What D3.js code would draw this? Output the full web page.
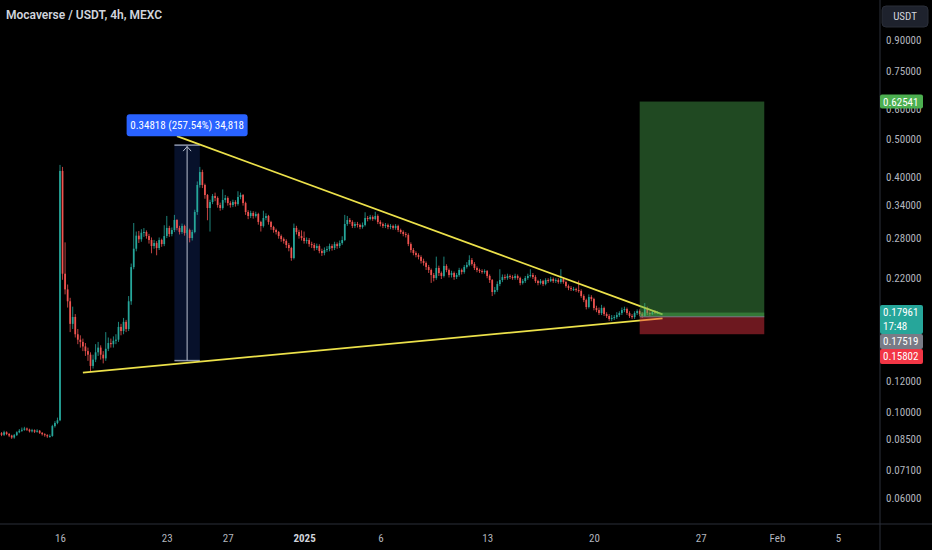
<!DOCTYPE html>
<html>
<head>
<meta charset="utf-8">
<script src="https://cdn.jsdelivr.net/npm/d3@7"></script>
<style>
  html, body { margin: 0; padding: 0; background: #000; }
  svg { display: block; }
  text { font-family: "Liberation Sans Narrow", "Roboto Condensed", Roboto, sans-serif; }
</style>
</head>
<body>
<script>
var w = 932;
var h = 550;
var paneW = 880;   // price scale starts here
var paneH = 524;   // time scale starts here

// 4h candles, first one opens 12 Dec 2024 00:00 UTC
var startTime = Date.UTC(2024, 11, 12);
var barMs = 4 * 3600 * 1000;
var firstOpen = 0.0875;

var closes = [
  .0880,.0872,.0885,.0876,.0868,.0858,.0870,.0885,.0893,.0898,
  .0905,.0899,.0890,.0896,.0888,.0893,.0882,.0875,.0870,.0864,
  .0866,.0918,.0935,.0950,.415,.226,.206,.192,.168,.175,
  .158,.153,.151,.147,.143,.140,.131,.136,.142,.146,
  .140,.137,.145,.150,.149,.152,.153,.165,.161,.170,
  .163,.192,.235,.262,.283,.277,.288,.2892,.2824,.2758,
  .2662,.2709,.2631,.2758,.2693,.2824,.2962,.2858,.2926,.3105,
  .2962,.2892,.2997,.2874,.2926,.2791,.2892,.3255,.3819,.4123,
  .3819,.3599,.3333,.3453,.3578,.3536,.3392,.3333,.3494,.3536,
  .3432,.3392,.3453,.3412,.3557,.3599,.3432,.3255,.3179,.3236,
  .3179,.3217,.3069,.2997,.3142,.3179,.3069,.2979,.2926,.2892,
  .2824,.2774,.2742,.2678,.2631,.2480,.2962,.2892,.2824,.2791,
  .2742,.2758,.2693,.2678,.2631,.2662,.2585,.2554,.2600,.2615,
  .2662,.2631,.2693,.2662,.2709,.2758,.3032,.3105,.3069,.2997,
  .3032,.3015,.2979,.3015,.3142,.3123,.3161,.3123,.3179,.3069,
  .3032,.2997,.3015,.2979,.2997,.2962,.2997,.2926,.2892,.2858,
  .2841,.2693,.2600,.2554,.2524,.2495,.2437,.2408,.2352,.2310,
  .2243,.2203,.2338,.2269,.2230,.2366,.2310,.2243,.2269,.2216,
  .2243,.2310,.2283,.2352,.2380,.2451,.2394,.2338,.2310,.2296,
  .2283,.2296,.2230,.2177,.2028,.2052,.2126,.2177,.2216,.2203,
  .2230,.2216,.2203,.2230,.2203,.2139,.2164,.2203,.2230,.2243,
  .2216,.2164,.2139,.2164,.2126,.2177,.2164,.2190,.2164,.2177,
  .2152,.2190,.2152,.2101,.2076,.2064,.2064,.2052,.2040,.1981,
  .1934,.1856,.1969,.1946,.1845,.1823,.1791,.1845,.1780,.1760,
  .1729,.1739,.1749,.1770,.1791,.1823,.1834,.1791,.1760,.1749,
  .1791,.1812,.1780,.1760,.1845,.1791,.1780,.1802,.1791,.17961
];

var highs = [
  .0892,.0886,.0893,.0890,.0881,.0872,.0876,.0890,.0902,.0910,
  .0914,.0910,.0904,.0903,.0900,.0901,.0897,.0886,.0880,.0875,
  .0874,.0925,.0945,.0965,.430,.425,.272,.212,.196,.186,
  .178,.163,.157,.154,.150,.146,.142,.140,.149,.151,
  .148,.143,.160,.155,.154,.156,.158,.170,.168,.174,
  .172,.198,.240,.305,.290,.291,.294,.296,.292,.286,
  .280,.276,.274,.280,.278,.301,.318,.300,.297,.320,
  .312,.300,.304,.302,.297,.295,.293,.330,.390,.425,
  .418,.385,.362,.350,.362,.365,.357,.344,.372,.360,
  .357,.347,.350,.349,.368,.365,.362,.346,.329,.328,
  .327,.326,.324,.309,.328,.323,.320,.309,.300,.295,
  .291,.285,.280,.277,.271,.265,.304,.300,.293,.292,
  .290,.280,.279,.273,.271,.270,.269,.262,.264,.266,
  .270,.269,.273,.272,.275,.282,.320,.318,.314,.310,
  .307,.307,.304,.306,.325,.318,.320,.319,.326,.321,
  .310,.306,.305,.304,.303,.302,.303,.302,.295,.292,
  .289,.287,.272,.263,.258,.255,.252,.247,.243,.238,
  .233,.227,.250,.237,.229,.250,.239,.233,.230,.229,
  .227,.234,.233,.238,.242,.252,.248,.242,.236,.233,
  .232,.232,.231,.225,.219,.209,.216,.232,.225,.225,
  .226,.225,.224,.226,.225,.222,.219,.223,.226,.232,
  .227,.224,.218,.219,.218,.220,.220,.222,.221,.220,
  .220,.232,.221,.217,.212,.210,.209,.208,.217,.206,
  .200,.195,.200,.199,.196,.187,.185,.188,.186,.180,
  .178,.177,.177,.180,.181,.185,.186,.185,.181,.178,
  .181,.183,.183,.180,.190,.186,.181,.182,.182,.181
];

var lows = [
  .0868,.0865,.0866,.0870,.0860,.0851,.0852,.0866,.0880,.0887,
  .0893,.0892,.0884,.0884,.0881,.0883,.0876,.0868,.0862,.0856,
  .0857,.0862,.0910,.0928,.0945,.218,.200,.185,.160,.163,
  .155,.149,.146,.143,.139,.135,.127,.129,.134,.139,
  .136,.133,.135,.143,.146,.146,.149,.151,.157,.158,
  .160,.161,.188,.232,.258,.271,.273,.281,.278,.270,
  .255,.262,.252,.260,.265,.266,.279,.281,.282,.289,
  .292,.285,.286,.283,.284,.272,.275,.287,.320,.376,
  .375,.352,.310,.290,.341,.347,.334,.328,.330,.344,
  .338,.334,.335,.336,.338,.351,.338,.320,.312,.314,
  .313,.315,.302,.290,.297,.310,.302,.293,.288,.285,
  .278,.273,.270,.263,.258,.244,.246,.285,.278,.275,
  .270,.270,.265,.263,.259,.260,.255,.251,.252,.257,
  .258,.259,.260,.262,.263,.268,.274,.300,.303,.296,
  .296,.297,.294,.295,.299,.308,.310,.309,.310,.303,
  .299,.296,.296,.294,.294,.293,.293,.289,.286,.282,
  .280,.266,.256,.252,.249,.246,.240,.237,.231,.227,
  .214,.216,.218,.223,.219,.221,.228,.221,.221,.218,
  .219,.222,.225,.226,.233,.236,.237,.231,.228,.227,
  .226,.226,.220,.214,.198,.200,.203,.210,.215,.218,
  .218,.219,.218,.218,.218,.211,.212,.214,.218,.221,
  .219,.214,.211,.212,.210,.211,.214,.215,.214,.214,
  .213,.213,.213,.208,.205,.204,.204,.203,.202,.196,
  .191,.183,.184,.192,.182,.180,.177,.177,.176,.174,
  .171,.171,.172,.173,.175,.177,.180,.177,.174,.173,
  .173,.177,.176,.174,.175,.177,.176,.177,.178,.178
];

// the 0.18 and 0.15 ticks sit under the price tags, so they are left out
var priceTicks = [0.9, 0.75, 0.6, 0.5, 0.4, 0.34, 0.28, 0.22, 0.12, 0.10, 0.085, 0.071, 0.06];
var timeTicks = [
  Date.UTC(2024, 11, 16), Date.UTC(2024, 11, 23), Date.UTC(2024, 11, 27), Date.UTC(2025, 0, 1),
  Date.UTC(2025, 0, 6), Date.UTC(2025, 0, 13), Date.UTC(2025, 0, 20), Date.UTC(2025, 0, 27),
  Date.UTC(2025, 1, 1), Date.UTC(2025, 1, 5)
];
var timeLabels = ["16", "23", "27", "2025", "6", "13", "20", "27", "Feb", "5"];

// triangle trendlines [time, price]
var upperLine = [[Date.UTC(2024, 11, 23, 16), 0.51], [Date.UTC(2025, 0, 24, 12), 0.1777]];
var lowerLine = [[Date.UTC(2024, 11, 17, 12), 0.1259], [Date.UTC(2025, 0, 24, 12), 0.1736]];

// price range measurement
var measureTimes = [Date.UTC(2024, 11, 23, 12), Date.UTC(2024, 11, 25, 4)];
var measurePrices = [0.1352, 0.48338];
var measureText = "0.34818 (257.54%) 34,818";

// long position tool
var positionTimes = [Date.UTC(2025, 0, 23), Date.UTC(2025, 0, 31, 4)];
var stopPrice = 0.15802;
var entryPrice = 0.17519;
var targetPrice = 0.62541;
var lastPrice = 0.17961;
var countdown = "17:48";

var title = "Mocaverse / USDT, 4h, MEXC";

var upColor = "#26a69a";
var downColor = "#ef5350";

var svg = d3.select("body")
  .append("svg")
  .attr("width", w)
  .attr("height", h)
  .style("background", "#000");

var x = d3.scaleUtc()
  .domain([Date.UTC(2024, 11, 16), Date.UTC(2025, 1, 5)])
  .range([60, 838]);

var y = d3.scaleLog()
  .domain([0.9, 0.06])
  .range([40, 498]);

svg.append("defs").append("clipPath")
  .attr("id", "pane")
  .append("rect")
  .attr("width", paneW)
  .attr("height", paneH);

var plot = svg.append("g").attr("clip-path", "url(#pane)");

// measurement box
var mx0 = x(measureTimes[0]), mx1 = x(measureTimes[1]);
var myTop = y(measurePrices[1]), myBot = y(measurePrices[0]);
var mcx = (mx0 + mx1) / 2;
plot.append("rect")
  .attr("x", mx0).attr("y", myTop)
  .attr("width", mx1 - mx0).attr("height", myBot - myTop)
  .attr("fill", "rgba(41,98,255,0.17)");
plot.selectAll(".mline")
  .data([myTop, myBot])
  .enter().append("line")
  .attr("x1", mx0).attr("x2", mx1)
  .attr("y1", function(d) { return d; }).attr("y2", function(d) { return d; })
  .attr("stroke", "#8e97ad").attr("stroke-width", 1.5);
plot.append("line")
  .attr("x1", mcx).attr("x2", mcx)
  .attr("y1", myBot).attr("y2", myTop + 1)
  .attr("stroke", "#b9c0d0").attr("stroke-width", 1);
plot.append("path")
  .attr("d", "M" + (mcx - 4) + "," + (myTop + 6) + "L" + mcx + "," + (myTop + 1.5) + "L" + (mcx + 4) + "," + (myTop + 6))
  .attr("fill", "none").attr("stroke", "#b9c0d0").attr("stroke-width", 1);

// candles
var candles = closes.map(function(c, i) {
  return { t: startTime + i * barMs, o: i ? closes[i - 1] : firstOpen, c: c, h: highs[i], l: lows[i] };
});
var barW = (x(startTime + barMs) - x(startTime)) * 0.68;

var cg = plot.append("g");
cg.selectAll("line")
  .data(candles)
  .enter().append("line")
  .attr("x1", function(d) { return x(d.t); })
  .attr("x2", function(d) { return x(d.t); })
  .attr("y1", function(d) { return y(d.h); })
  .attr("y2", function(d) { return y(d.l); })
  .attr("stroke", function(d) { return d.c >= d.o ? upColor : downColor; })
  .attr("stroke-width", 0.8);
cg.selectAll("rect")
  .data(candles)
  .enter().append("rect")
  .attr("x", function(d) { return x(d.t) - barW / 2; })
  .attr("width", barW)
  .attr("y", function(d) { return y(Math.max(d.o, d.c)); })
  .attr("height", function(d) { return Math.max(1, Math.abs(y(d.o) - y(d.c))); })
  .attr("fill", function(d) { return d.c >= d.o ? upColor : downColor; });

// trendlines
var line = d3.line()
  .x(function(d) { return x(d[0]); })
  .y(function(d) { return y(d[1]); });
plot.selectAll(".trend")
  .data([upperLine, lowerLine])
  .enter().append("path")
  .attr("d", line)
  .attr("fill", "none")
  .attr("stroke", "#ece14a")
  .attr("stroke-width", 1.8);

// long position
var px0 = x(positionTimes[0]), px1 = x(positionTimes[1]);
plot.append("rect")
  .attr("x", px0).attr("width", px1 - px0)
  .attr("y", y(targetPrice)).attr("height", y(entryPrice) - y(targetPrice))
  .attr("fill", "rgba(76,175,80,0.42)");
plot.append("rect")
  .attr("x", px0).attr("width", px1 - px0)
  .attr("y", y(entryPrice)).attr("height", y(stopPrice) - y(entryPrice))
  .attr("fill", "rgba(242,54,69,0.45)");
plot.append("rect")
  .attr("x", px0).attr("width", px1 - px0)
  .attr("y", y(lastPrice)).attr("height", y(entryPrice) - y(lastPrice))
  .attr("fill", "rgba(76,175,80,0.45)");
plot.append("line")
  .attr("x1", px0).attr("x2", px1)
  .attr("y1", y(entryPrice)).attr("y2", y(entryPrice))
  .attr("stroke", "#787b86").attr("stroke-width", 1);

// measurement label
var lblW = 121, lblH = 22;
plot.append("rect")
  .attr("x", mcx - lblW / 2).attr("y", myTop - 9 - lblH)
  .attr("width", lblW).attr("height", lblH)
  .attr("rx", 3)
  .attr("fill", "#2962ff");
plot.append("text")
  .attr("x", mcx).attr("y", myTop - 9 - lblH / 2)
  .attr("dy", "0.35em")
  .attr("text-anchor", "middle")
  .attr("fill", "#fff")
  .attr("font-size", 11)
  .text(measureText);

// separators
svg.append("line")
  .attr("x1", paneW).attr("x2", paneW).attr("y1", 0).attr("y2", h)
  .attr("stroke", "#2a2e39");
svg.append("line")
  .attr("x1", 0).attr("x2", w).attr("y1", paneH).attr("y2", paneH)
  .attr("stroke", "#2a2e39");

// price axis
var yAxis = svg.append("g")
  .attr("transform", "translate(" + paneW + ",0)")
  .call(d3.axisRight(y)
    .tickValues(priceTicks)
    .tickFormat(d3.format(".5f"))
    .tickSize(0)
    .tickPadding(6));
yAxis.select(".domain").remove();
yAxis.selectAll("text").attr("fill", "#b2b5be").attr("font-size", 11);

// time axis
var xAxis = svg.append("g")
  .attr("transform", "translate(0," + paneH + ")")
  .call(d3.axisBottom(x)
    .tickValues(timeTicks)
    .tickFormat(function(d, i) { return timeLabels[i]; })
    .tickSize(0)
    .tickPadding(10));
xAxis.select(".domain").remove();
xAxis.selectAll("text")
  .attr("fill", function(d, i) { return timeLabels[i] == "2025" ? "#d1d4dc" : "#b2b5be"; })
  .attr("font-weight", function(d, i) { return timeLabels[i] == "2025" ? "bold" : "normal"; })
  .attr("font-size", 11);

// price tags on the axis
function tag(top, height, fill, lines) {
  svg.append("rect")
    .attr("x", paneW).attr("y", top)
    .attr("width", 43).attr("height", height)
    .attr("rx", 2)
    .attr("fill", fill);
  lines.forEach(function(t, k) {
    svg.append("text")
      .attr("x", paneW + 3).attr("y", top + 7.5 + k * 13.5)
      .attr("dy", "0.35em")
      .attr("fill", "#fff")
      .attr("font-size", 11)
      .text(t);
  });
  return top + height;
}
var fmt = d3.format(".5f");
tag(y(targetPrice) - 7, 14, "#4caf50", [fmt(targetPrice)]);
var next = tag(y(lastPrice) - 7.5, 29, upColor, [fmt(lastPrice), countdown]);
next = tag(next, 15, "#787b86", [fmt(entryPrice)]);
tag(next, 15, "#f23645", [fmt(stopPrice)]);

// currency button
svg.append("rect")
  .attr("x", 882).attr("y", 6)
  .attr("width", 46).attr("height", 21)
  .attr("rx", 4)
  .attr("fill", "#1e222d")
  .attr("stroke", "#2a2e39");
svg.append("text")
  .attr("x", 905).attr("y", 16.5)
  .attr("dy", "0.35em")
  .attr("text-anchor", "middle")
  .attr("fill", "#d1d4dc")
  .attr("font-size", 11)
  .text("USDT");

// title
svg.append("text")
  .attr("x", 6).attr("y", 19)
  .attr("fill", "#d1d4dc")
  .attr("font-size", 12)
  .attr("font-weight", 600)
  .style("font-family", "Roboto, sans-serif")
  .text(title);
</script>
</body>
</html>
